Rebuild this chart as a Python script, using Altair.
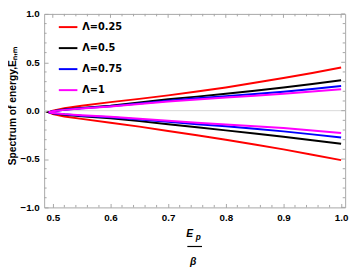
import altair as alt
import pandas as pd

# ---- data ----
x_vals = [0.493, 0.5, 0.52, 0.55, 0.6, 0.65, 0.7, 0.75, 0.8, 0.85, 0.9, 0.95, 1.0]
labels = ["Λ=0.25", "Λ=0.5", "Λ=0.75", "Λ=1"]
colors = ["#FF0000", "#000000", "#0000FF", "#FF00FF"]

upper_025 = [-0.016, 0.0, 0.025, 0.05, 0.088, 0.122, 0.158, 0.198, 0.24, 0.288, 0.338, 0.39, 0.446]
lower_025 = [-0.016, -0.035, -0.06, -0.085, -0.125, -0.165, -0.21, -0.255, -0.3, -0.35, -0.4, -0.455, -0.511]
upper_05 = [-0.016, -0.005, 0.012, 0.028, 0.052, 0.084, 0.117, 0.145, 0.174, 0.206, 0.24, 0.276, 0.314]
lower_05 = [-0.016, -0.028, -0.042, -0.058, -0.08, -0.108, -0.14, -0.172, -0.204, -0.237, -0.27, -0.306, -0.343]
upper_075 = [-0.016, -0.006, 0.01, 0.024, 0.045, 0.074, 0.103, 0.128, 0.15, 0.172, 0.195, 0.224, 0.254]
lower_075 = [-0.016, -0.026, -0.038, -0.052, -0.068, -0.092, -0.116, -0.14, -0.162, -0.188, -0.214, -0.245, -0.277]
upper_1 = [-0.016, -0.007, 0.008, 0.022, 0.042, 0.068, 0.094, 0.116, 0.136, 0.155, 0.175, 0.198, 0.222]
lower_1 = [-0.016, -0.025, -0.036, -0.048, -0.062, -0.083, -0.104, -0.124, -0.144, -0.162, -0.18, -0.205, -0.231]

x_ticks = [0.5, 0.6, 0.7, 0.8, 0.9, 1.0]
y_ticks = [-1.0, -0.5, 0.0, 0.5, 1.0]
x_minor = [0.52, 0.54, 0.56, 0.58, 0.62, 0.64, 0.66, 0.68, 0.72, 0.74, 0.76, 0.78,
           0.82, 0.84, 0.86, 0.88, 0.92, 0.94, 0.96, 0.98]
y_minor = [-0.9, -0.8, -0.7, -0.6, -0.4, -0.3, -0.2, -0.1, 0.1, 0.2, 0.3, 0.4, 0.6, 0.7, 0.8, 0.9]

branches = [(upper_025, lower_025), (upper_05, lower_05), (upper_075, lower_075), (upper_1, lower_1)]
rows = []
for lab, (up, lo) in zip(labels, branches):
    seq = 0
    for xv, yv in reversed(list(zip(x_vals, up))):
        rows.append({"x": xv, "y": yv, "lam": lab, "seq": seq})
        seq += 1
    for xv, yv in list(zip(x_vals, lo))[1:]:
        rows.append({"x": xv, "y": yv, "lam": lab, "seq": seq})
        seq += 1
df = pd.DataFrame(rows)

FONT = "Liberation Sans"
GRAY = "#a6a6a6"
W, H = 308, 198

xscale = alt.Scale(domain=[0.485, 1.007], nice=False, zero=False)
yscale = alt.Scale(domain=[-1.0, 1.0], nice=False, zero=False)

zero = alt.Chart(pd.DataFrame({"y": [0.0]})).mark_rule(color="#d9d9d9", strokeWidth=1).encode(
    y=alt.Y("y:Q", scale=yscale)
)

# frame ticks (top/bottom minors and top majors; left/right minors and right majors)
xmin_df = pd.DataFrame({"x": x_minor})
xmaj_df = pd.DataFrame({"x": x_ticks})
ymin_df = pd.DataFrame({"y": y_minor})
ymaj_df = pd.DataFrame({"y": y_ticks})

def xtick(d, y0, y1):
    return alt.Chart(d).mark_rule(color=GRAY, strokeWidth=1).encode(
        x=alt.X("x:Q", scale=xscale), y=alt.value(y0), y2=alt.value(y1))

def ytick(d, x0, x1):
    return alt.Chart(d).mark_rule(color=GRAY, strokeWidth=1).encode(
        y=alt.Y("y:Q", scale=yscale), x=alt.value(x0), x2=alt.value(x1))

ticks = [
    xtick(xmin_df, H - 2.5, H), xtick(xmin_df, 0, 2.5), xtick(xmaj_df, 0, 4),
    ytick(ymin_df, 0, 2.5), ytick(ymin_df, W - 2.5, W), ytick(ymaj_df, W - 4, W),
]

lines = alt.Chart(df).mark_line(strokeWidth=2).encode(
    x=alt.X("x:Q", scale=xscale,
            axis=alt.Axis(values=x_ticks, format=".1f", offset=-4, tickSize=4, domain=False,
                          grid=False, labelPadding=5, title=None, tickColor=GRAY)),
    y=alt.Y("y:Q", scale=yscale,
            axis=alt.Axis(values=y_ticks, format=".1f", offset=-4, tickSize=4, domain=False,
                          grid=False, labelPadding=5, tickColor=GRAY,
                          title="Spectrum of energy,Eₙ,ₘ", titleX=-36, titleY=94,
                          titleAngle=270, titleAlign="center", titleBaseline="middle",
                          titleFont=FONT, titleFontSize=10.5, titleFontWeight="bold",
                          titleColor="#000000")),
    color=alt.Color("lam:N", scale=alt.Scale(domain=labels, range=colors),
                    legend=alt.Legend(title=None, orient="none", legendX=14, legendY=3,
                                      symbolType="stroke", symbolSize=361, symbolStrokeWidth=2,
                                      labelFont="DejaVu Sans", labelFontSize=10,
                                      labelFontWeight="bold", labelColor="#000000",
                                      rowPadding=5.5, labelOffset=4)),
    order=alt.Order("seq:Q"),
)

txt_e = alt.Chart(pd.DataFrame({"t": ["E"]})).mark_text(
    font=FONT, fontSize=10.5, fontWeight="bold", fontStyle="italic", align="left",
    baseline="middle", color="#000000").encode(text="t:N", x=alt.value(145.5), y=alt.value(225.5))
txt_p = alt.Chart(pd.DataFrame({"t": ["p"]})).mark_text(
    font=FONT, fontSize=8.5, fontWeight="bold", fontStyle="italic", align="left",
    baseline="middle", color="#000000").encode(text="t:N", x=alt.value(155), y=alt.value(228.5))
frac = alt.Chart(pd.DataFrame({"t": [1]})).mark_rule(color="#000000", strokeWidth=1.2).encode(
    x=alt.value(146.5), x2=alt.value(161.5), y=alt.value(238))
txt_b = alt.Chart(pd.DataFrame({"t": ["β"]})).mark_text(
    font=FONT, fontSize=10.5, fontWeight="bold", fontStyle="italic", align="center",
    baseline="middle", color="#000000").encode(text="t:N", x=alt.value(152.5), y=alt.value(254))

chart = alt.layer(zero, *ticks, lines, txt_e, txt_p, frac, txt_b).properties(
    width=W, height=H,
    autosize=alt.AutoSizeParams(type="none"),
    padding={"left": 37, "top": 3, "right": 7, "bottom": 61},
).configure_view(stroke=GRAY, strokeWidth=1).configure_axis(
    labelFont=FONT, labelFontSize=10, labelFontWeight="bold", labelColor="#000000"
).configure_legend(padding=0)

chart.save("out.html", embed_options={"renderer": "svg", "actions": False})
